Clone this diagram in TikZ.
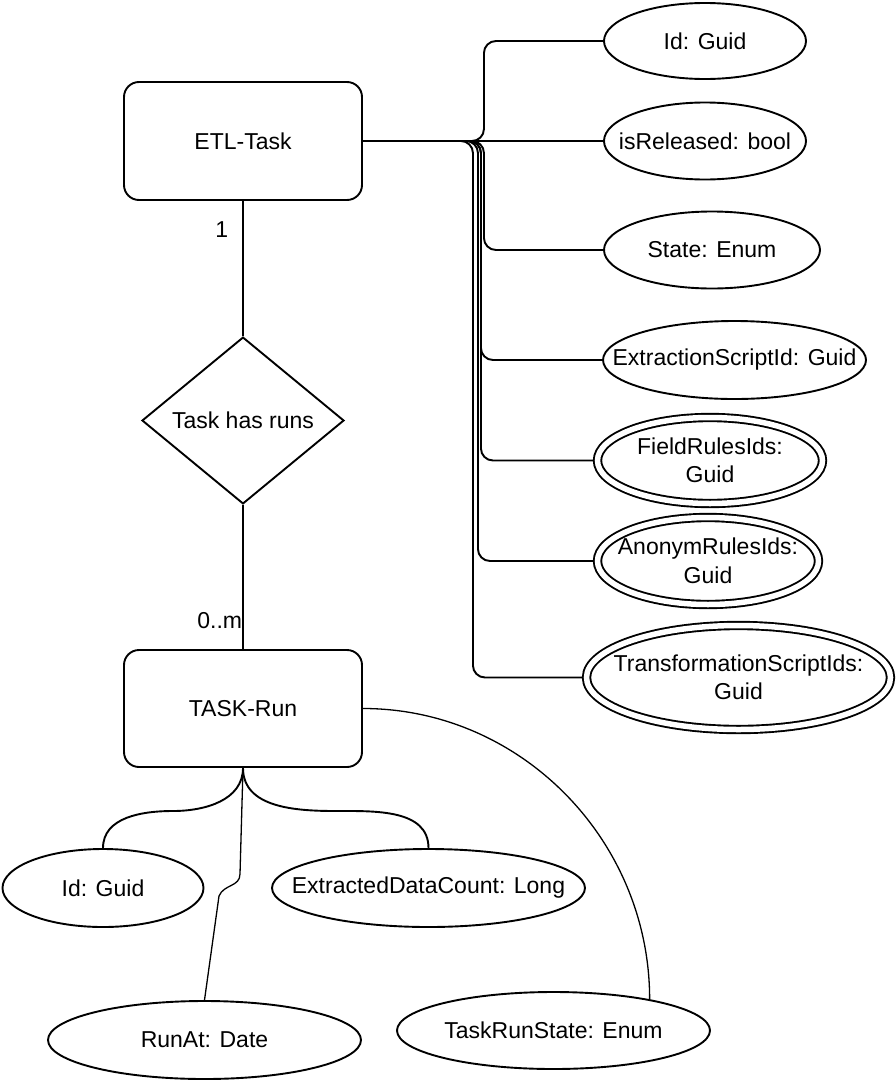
\documentclass[tikz,border=0pt]{standalone}
\usepackage{fontspec}
\setmainfont{Liberation Sans}
\usetikzlibrary{shapes.geometric,calc}
\newcommand{\erfont}{\fontsize{23}{28.5}\selectfont}
\tikzset{
  entity/.style  = {rectangle, draw, rounded corners=15pt, line width=1.9pt,
                    minimum width=238pt, minimum height=118pt, font=\erfont},
  relship/.style = {diamond, draw, line width=1.9pt, inner sep=2pt,
                    minimum width=202pt, minimum height=157pt, font=\erfont},
  attr/.style    = {ellipse, draw, line width=1.9pt, inner xsep=-30pt,
                    inner ysep=0pt, align=center, font=\erfont},
  multi/.style   = {attr, double, double distance=5.5pt, outer sep=4.7pt},
  conn/.style    = {line width=1.9pt},
  fineconn/.style = {line width=1.3pt},
  card/.style    = {inner sep=0pt, font=\erfont}
}

\begin{document}
\begin{tikzpicture}[x=1pt, y=-1pt]
  \useasboundingbox (0,0) rectangle (896,1082);

  % entities and relationship
  \node[entity] (etl) at (243,141) {ETL-Task};
  \node[relship] (has) at (243,420.5) {Task has runs};
  \node[entity, minimum height=117pt] (run) at (243,708.5) {TASK-Run};

  % attributes of ETL-Task
  \node[attr, minimum width=202pt, minimum height=76pt] (tid)    at (705,41)    {Id: Guid};
  \node[attr, minimum width=202pt, minimum height=77pt] (trel)   at (705,141)   {isReleased: bool};
  \node[attr, minimum width=216pt, minimum height=77pt] (tstate) at (712,250)   {State: Enum};
  \node[attr, minimum width=263pt, minimum height=78pt] (textr)  at (734.5,360) {ExtractionScriptId: Guid};
  \node[multi, minimum width=225pt, minimum height=86pt] (tfield) at (710,460.5) {FieldRulesIds:\\Guid};
  \node[multi, minimum width=221pt, minimum height=87pt] (tanon)  at (708,561)   {AnonymRulesIds:\\Guid};
  \node[multi, minimum width=304pt, minimum height=104pt] (ttrans) at (738.5,677.5) {TransformationScriptIds:\\Guid};

  % attributes of TASK-Run
  \node[attr, minimum width=201pt, minimum height=78pt] (rid)    at (103,888)    {Id: Guid};
  \node[attr, minimum width=313pt, minimum height=78pt] (rcount) at (428.5,888)  {ExtractedDataCount: Long};
  \node[attr, minimum width=313pt, minimum height=78pt] (rrun)   at (204.5,1040) {RunAt: Date};
  \node[attr, minimum width=313pt, minimum height=77pt] (rstate) at (553.5,1030.5) {TaskRunState: Enum};

  % relationship lines
  \draw[conn] (etl.south) -- node[card, pos=0.21, anchor=east, xshift=-14pt] {1} (has.north);
  \draw[conn] (has.south) -- node[card, pos=0.8, anchor=east] {0..m} (run.north);

  % ETL-Task attribute lines
  \draw[conn, rounded corners=12pt] (etl.east) -- ++(121,0) |- (tid.west);
  \draw[conn] (etl.east) -- (trel.west);
  \draw[conn, rounded corners=12pt] (etl.east) -- ++(121,0) |- (tstate.west);
  \draw[conn, rounded corners=12pt] (etl.east) -- ++(118,0) |- (textr.west);
  \draw[conn, rounded corners=12pt] (etl.east) -- ++(118,0) |- (tfield.west);
  \draw[conn, rounded corners=12pt] (etl.east) -- ++(115,0) |- (tanon.west);
  \draw[conn, rounded corners=12pt] (etl.east) -- ++(110,0) |- (ttrans.west);

  % TASK-Run attribute lines
  \draw[conn] (run.south) to[out=-90,in=0] (173,811) to[out=180,in=90] (rid.north);
  \draw[conn] (run.south) to[out=-90,in=180] (336,811) to[out=0,in=90] (rcount.north);
  \draw[fineconn] (run.south) -- (240,874) .. controls (240,887) and (224,884) .. (219,896) -- (rrun.north);
  \draw[fineconn] (run.east) .. controls +(158,0) and +(0,-159) .. (rstate.18);
\end{tikzpicture}
\end{document}
